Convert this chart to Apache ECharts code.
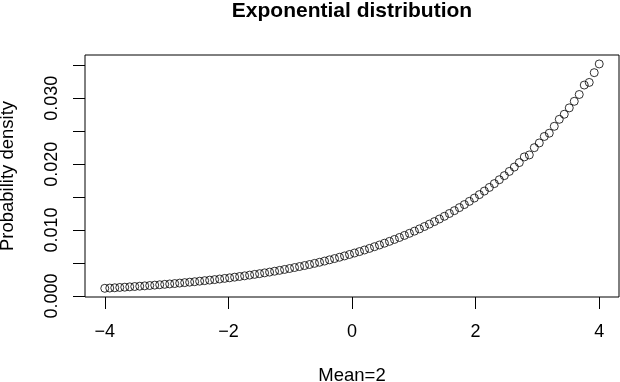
<!DOCTYPE html>
<html>
<head>
<meta charset="utf-8">
<script src="https://cdn.jsdelivr.net/npm/echarts@6/dist/echarts.min.js"></script>
<style>html,body{margin:0;padding:0;background:#fff;}#c{width:620px;height:382px;}</style>
</head>
<body>
<div id="c"></div>
<script>
// x positions: 100 evenly spaced points from -4 to 4
var xStart = -4, xEnd = 4, nPoints = 100;
// density values
var density = [
0.00117,0.00121,0.00125,0.00130,0.00134,0.00139,0.00144,0.00149,0.00154,0.00159,
0.00165,0.00171,0.00177,0.00183,0.00189,0.00196,0.00203,0.00210,0.00217,0.00225,
0.00233,0.00241,0.00249,0.00258,0.00267,0.00276,0.00286,0.00296,0.00306,0.00317,
0.00328,0.00339,0.00351,0.00363,0.00376,0.00389,0.00403,0.00417,0.00432,0.00447,
0.00462,0.00478,0.00495,0.00512,0.00530,0.00549,0.00568,0.00588,0.00608,0.00630,
0.00652,0.00674,0.00698,0.00722,0.00748,0.00774,0.00801,0.00829,0.00858,0.00888,
0.00919,0.00951,0.00984,0.01018,0.01054,0.01091,0.01129,0.01168,0.01209,0.01252,
0.01295,0.01341,0.01387,0.01436,0.01486,0.01538,0.01592,0.01647,0.01705,0.01764,
0.01826,0.01890,0.01956,0.02024,0.02110,0.02140,0.02250,0.02322,0.02420,0.02470,
0.02574,0.02680,0.02757,0.02854,0.02953,0.03057,0.03200,0.03240,0.03388,0.03520
];
var xTicks = [-4, -2, 0, 2, 4];
var yTicks = [0, 0.005, 0.01, 0.015, 0.02, 0.025, 0.03, 0.035];
var yLabels = [0, 0.01, 0.02, 0.03];

var pts = density.map(function (v, i) {
  return [xStart + i * (xEnd - xStart) / (nPoints - 1), v];
});
var font = '"Liberation Sans", Arial, Helvetica, sans-serif';
var chart = echarts.init(document.getElementById('c'), null, {renderer: 'canvas'});
chart.setOption({
  animation: false,
  backgroundColor: '#fff',
  grid: {left: 85, right: 1, top: 55, bottom: 85, outerBoundsMode: 'none', containLabel: false,
    show: true, borderColor: '#000', borderWidth: 1, backgroundColor: 'transparent'},
  graphic: [{
    type: 'text', x: 352, y: 11,
    style: {text: 'Exponential distribution', font: 'bold 21px ' + font, fill: '#000', align: 'center', verticalAlign: 'middle'}
  }],
  xAxis: {
    type: 'value', min: -4.32, max: 4.32,
    name: 'Mean=2', nameLocation: 'middle', nameGap: 69,
    nameTextStyle: {fontFamily: font, fontSize: 18.5, color: '#000'},
    axisLine: {show: false, onZero: false},
    splitLine: {show: false},
    axisTick: {show: true, inside: false, length: 12, customValues: xTicks, lineStyle: {color: '#000', width: 1}},
    axisLabel: {customValues: xTicks, margin: 26, fontFamily: font, fontSize: 18, color: '#000',
      formatter: function (v) { return String(v).replace('-', '\u2212'); }}
  },
  yAxis: {
    type: 'value', min: -0.00015, max: 0.03656,
    name: 'Probability density', nameLocation: 'middle', nameGap: 68, nameRotate: 90,
    nameTextStyle: {fontFamily: font, fontSize: 18.5, color: '#000'},
    axisLine: {show: false, onZero: false},
    splitLine: {show: false},
    axisTick: {show: true, inside: false, length: 12, customValues: yTicks, lineStyle: {color: '#000', width: 1}},
    axisLabel: {customValues: yLabels, rotate: 90, margin: 24, fontFamily: font, fontSize: 18, color: '#000',
      formatter: function (v) { return v.toFixed(3); }}
  },
  series: [{
    type: 'scatter', data: pts, symbol: 'circle', symbolSize: 8,
    itemStyle: {color: 'rgba(0,0,0,0)', borderColor: '#000', borderWidth: 1},
    emphasis: {disabled: true}
  }]
});
</script>
</body>
</html>
